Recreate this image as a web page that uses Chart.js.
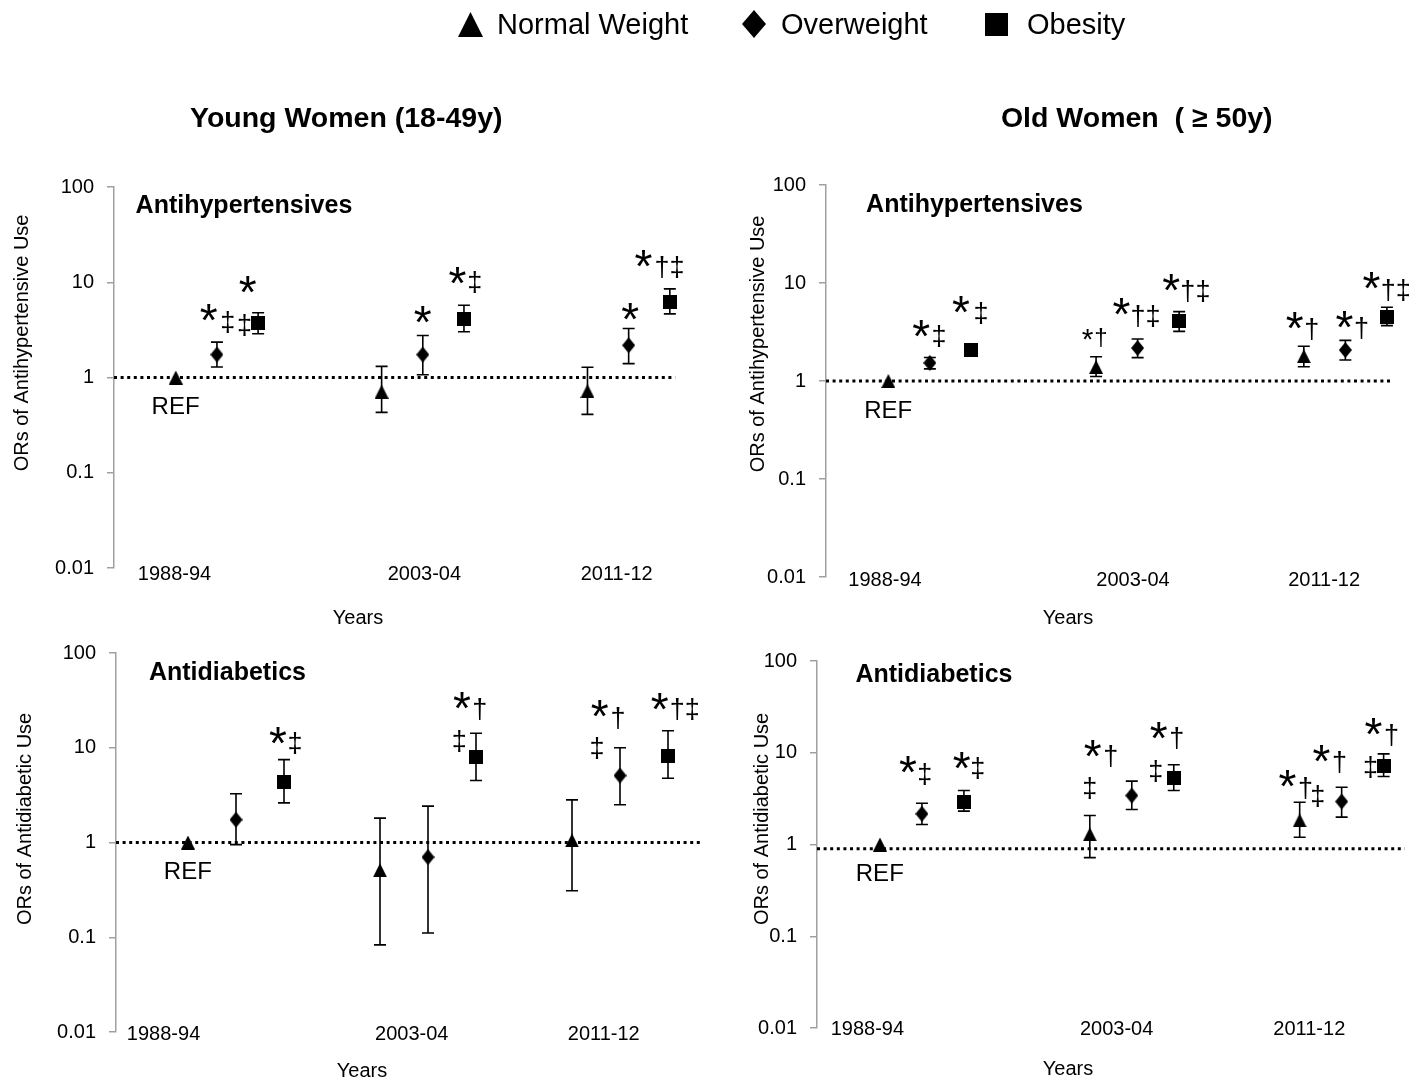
<!DOCTYPE html>
<html>
<head>
<meta charset="utf-8">
<script src="https://cdn.jsdelivr.net/npm/chart.js@4.4.0/dist/chart.umd.min.js"></script>
<style>
  html, body { margin: 0; padding: 0; background: #fff; }
  body { width: 1424px; height: 1078px; position: relative; overflow: hidden; }
  canvas { position: absolute; left: 0; top: 0; }
</style>
</head>
<body>
<canvas id="c1" width="1424" height="1078"></canvas>
<canvas id="c2" width="1424" height="1078"></canvas>
<canvas id="c3" width="1424" height="1078"></canvas>
<canvas id="c4" width="1424" height="1078"></canvas>
<script>
// ================= DATA =================
const seriesNames = ['Normal Weight', 'Overweight', 'Obesity'];
const periodLabels = ['1988-94', '2003-04', '2011-12'];
const yTickValues = [0.01, 0.1, 1, 10, 100];
const yTickLabels = ['0.01', '0.1', '1', '10', '100'];
const columnTitles = ['Young Women (18-49y)', 'Old Women  ( \u2265 50y)'];
const drugTitles = ['Antihypertensives', 'Antidiabetics'];
const yAxisTitles = ['ORs of Antihypertensive Use', 'ORs of Antidiabetic Use'];
const xAxisTitle = 'Years';
const refText = 'REF';

// Young women, antihypertensives (OR and 95% CI per period)
const ywHtnNormalOR = [1.00, 0.71, 0.72];
const ywHtnNormalCI = [null, [0.43, 1.31], [0.41, 1.28]];
const ywHtnOverOR   = [1.74, 1.74, 2.18];
const ywHtnOverCI   = [[1.29, 2.35], [1.07, 2.76], [1.40, 3.27]];
const ywHtnObeseOR  = [3.69, 4.13, 6.17];
const ywHtnObeseCI  = [[2.88, 4.78], [3.02, 5.74], [4.66, 8.53]];

// Old women, antihypertensives
const owHtnNormalOR = [1.00, 1.39, 1.79];
const owHtnNormalCI = [null, [1.11, 1.77], [1.40, 2.26]];
const owHtnOverOR   = [1.53, 2.17, 2.07];
const owHtnOverCI   = [[1.33, 1.74], [1.73, 2.68], [1.64, 2.60]];
const owHtnObeseOR  = [2.09, 4.06, 4.47];
const owHtnObeseCI  = [[1.98, 2.20], [3.21, 5.10], [3.67, 5.65]];

// Young women, antidiabetics
const ywDmNormalOR = [1.00, 0.51, 1.05];
const ywDmNormalCI = [null, [0.083, 1.81], [0.31, 2.82]];
const ywDmOverOR   = [1.74, 0.70, 5.09];
const ywDmOverCI   = [[0.95, 3.27], [0.111, 2.42], [2.50, 10.0]];
const ywDmObeseOR  = [4.33, 7.94, 8.28];
const ywDmObeseCI  = [[2.62, 7.50], [4.51, 14.2], [4.77, 15.1]];

// Old women, antidiabetics
const owDmNormalOR = [1.00, 1.29, 1.83];
const owDmNormalCI = [null, [0.72, 2.07], [1.20, 2.89]];
const owDmOverOR   = [2.16, 3.42, 2.94];
const owDmOverCI   = [[1.65, 2.82], [2.41, 4.90], [1.99, 4.21]];
const owDmObeseOR  = [2.89, 5.33, 7.14];
const owDmObeseCI  = [[2.31, 3.88], [3.88, 7.39], [5.51, 9.73]];

// Significance marks: [period, series, text]
const ywHtnMarks = [[0,1,'*'],[0,1,'\u2021'],[0,2,'*'],[0,2,'\u2021'],[1,1,'*'],[1,2,'*'],[1,2,'\u2021'],[2,1,'*'],[2,2,'*'],[2,2,'\u2020\u2021']];
const owHtnMarks = [[0,1,'*'],[0,1,'\u2021'],[0,2,'*'],[0,2,'\u2021'],[1,0,'*'],[1,0,'\u2020'],[1,1,'*'],[1,1,'\u2020\u2021'],[1,2,'*'],[1,2,'\u2020\u2021'],[2,0,'*'],[2,0,'\u2020'],[2,1,'*'],[2,1,'\u2020'],[2,2,'*'],[2,2,'\u2020\u2021']];
const ywDmMarks  = [[0,2,'*'],[0,2,'\u2021'],[1,2,'*'],[1,2,'\u2020'],[1,2,'\u2021'],[2,1,'*'],[2,1,'\u2020'],[2,1,'\u2021'],[2,2,'*'],[2,2,'\u2020\u2021']];
const owDmMarks  = [[0,1,'*'],[0,1,'\u2021'],[0,2,'*'],[0,2,'\u2021'],[1,0,'*'],[1,0,'\u2020'],[1,0,'\u2021'],[1,2,'*'],[1,2,'\u2020'],[1,2,'\u2021'],[2,0,'*'],[2,0,'\u2020'],[2,1,'\u2021'],[2,1,'*'],[2,1,'\u2020'],[2,2,'*'],[2,2,'\u2020'],[2,2,'\u2021']];

// ================= LAYOUT =================
const F = '"Liberation Sans", Arial, Helvetica, sans-serif';
const W = 1424, H = 1078, YW = 100;

// mark placement (x in slot units, y in OR units), same order as the marks arrays; size kind
const ywHtnMarkPos = [[0.80,4.81,'s'],[1.26,3.78,'d'],[1.75,9.47,'s'],[1.67,3.52,'d'],[6.0,4.59,'s'],[6.84,11.8,'s'],[7.26,9.94,'d'],[11.04,4.93,'s'],[11.36,17.8,'s'],[11.99,14.3,'d']];
const owHtnMarkPos = [[0.79,3.47,'s'],[1.22,2.88,'d'],[1.75,6.1,'s'],[2.23,4.94,'d'],[4.80,2.95,'ss'],[5.11,2.81,'sd'],[5.61,5.69,'s'],[6.19,4.61,'d'],[6.81,10.2,'s'],[7.39,8.28,'d'],[9.78,4.10,'s'],[10.19,3.40,'d'],[10.98,4.29,'s'],[11.39,3.47,'d'],[11.63,10.5,'s'],[12.21,8.48,'d']];
const ywDmMarkPos  = [[1.875,13.5,'s'],[2.23,11.1,'d'],[5.71,31.5,'s'],[6.08,25.9,'d'],[5.65,11.9,'d'],[8.58,25.9,'s'],[8.96,20.8,'d'],[8.52,9.82,'d'],[9.83,30.8,'s'],[10.35,25.9,'d']];
const owDmMarkPos  = [[0.67,7.45,'s'],[1.07,5.94,'d'],[1.95,8.23,'s'],[2.33,6.74,'d'],[5.07,11.1,'s'],[5.5,9.33,'d'],[5.0,4.08,'d'],[6.64,17.5,'s'],[7.07,14.3,'d'],[6.57,6.25,'d'],[9.71,5.24,'s'],[10.14,4.18,'d'],[10.43,3.42,'d'],[10.52,9.82,'s'],[10.95,7.83,'d'],[11.76,19.3,'s'],[12.19,15.8,'d'],[11.69,7.08,'d']];
// font sizes (px) for each kind of mark
const markFontSizes = { s: 46, d: 27, ss: 30, sd: 24 };

const slotsA = [[0,5,10],[1,6,11],[2,7,12]];
const slotsB = [[0,4,8],[1,5,9],[2,6,10]];

const panels = [
  { id:'c1', area:{left:114, right:711, top:187, bottom:568}, xmin:-1.5, xmax:13, slots:slotsA,
    or:[ywHtnNormalOR, ywHtnOverOR, ywHtnObeseOR], ci:[ywHtnNormalCI, ywHtnOverCI, ywHtnObeseCI],
    marks:ywHtnMarks, markPos:ywHtnMarkPos, refValue:1, refEnd:12.13,
    title:drugTitles[0], titlePos:[243.5,206], yTitle:yAxisTitles[0], yTitlePos:[22,343],
    xLabelSlots:[-0.02,6.05,10.72], xLabelY:573, xTitlePos:[358,617] },
  { id:'c2', area:{left:826, right:1418, top:185, bottom:577}, xmin:-1.5, xmax:12.7, slots:slotsA,
    or:[owHtnNormalOR, owHtnOverOR, owHtnObeseOR], ci:[owHtnNormalCI, owHtnOverCI, owHtnObeseCI],
    marks:owHtnMarks, markPos:owHtnMarkPos, refValue:1, refEnd:12.09,
    title:drugTitles[0], titlePos:[974,205], yTitle:yAxisTitles[0], yTitlePos:[758,344],
    xLabelSlots:[-0.07,5.9,10.5], xLabelY:579, xTitlePos:[1068,617] },
  { id:'c3', area:{left:116, right:716, top:653, bottom:1032}, xmin:-1.5, xmax:11, slots:slotsB,
    or:[ywDmNormalOR, ywDmOverOR, ywDmObeseOR], ci:[ywDmNormalCI, ywDmOverCI, ywDmObeseCI],
    marks:ywDmMarks, markPos:ywDmMarkPos, refValue:1, refEnd:10.7,
    title:drugTitles[1], titlePos:[227,670], yTitle:yAxisTitles[1], yTitlePos:[23.5,819],
    xLabelSlots:[-0.5,4.67,8.67], xLabelY:1033, xTitlePos:[362,1070] },
  { id:'c4', area:{left:817, right:1413, top:661, bottom:1028}, xmin:-1.5, xmax:12.7, slots:slotsA,
    or:[owDmNormalOR, owDmOverOR, owDmObeseOR], ci:[owDmNormalCI, owDmOverCI, owDmObeseCI],
    marks:owDmMarks, markPos:owDmMarkPos, refValue:0.9, refEnd:12.5,
    title:drugTitles[1], titlePos:[933.5,672], yTitle:yAxisTitles[1], yTitlePos:[760,819],
    xLabelSlots:[-0.29,5.65,10.24], xLabelY:1028, xTitlePos:[1068,1068] }
];

// ================= HELPERS =================
function makeMarker(shape, w, h) {
  const c = document.createElement('canvas');
  c.width = w; c.height = h;
  const g = c.getContext('2d');
  g.fillStyle = '#000';
  g.beginPath();
  if (shape === 'tri') { g.moveTo(w/2, 0); g.lineTo(w, h); g.lineTo(0, h); }
  else if (shape === 'dia') { g.moveTo(w/2, 0); g.lineTo(w, h/2); g.lineTo(w/2, h); g.lineTo(0, h/2); }
  else { g.rect(0, 0, w, h); }
  g.closePath(); g.fill();
  return c;
}
const markerImgs = [makeMarker('tri', 14, 14), makeMarker('dia', 13, 16), makeMarker('sq', 14, 14)];

function drawText(ctx, text, cx, cy, size, weight, rot) {
  ctx.save();
  ctx.font = (weight || 'normal') + ' ' + size + 'px ' + F;
  ctx.textAlign = 'left';
  ctx.textBaseline = 'alphabetic';
  const m = ctx.measureText(text);
  const dx = -(m.actualBoundingBoxRight - m.actualBoundingBoxLeft) / 2;
  const dy = (m.actualBoundingBoxAscent - m.actualBoundingBoxDescent) / 2;
  ctx.translate(cx, cy);
  if (rot) ctx.rotate(rot);
  ctx.fillStyle = '#000';
  ctx.fillText(text, dx, dy);
  ctx.restore();
}
function drawTextLeft(ctx, text, x, cy, size, weight) {
  ctx.save();
  ctx.font = (weight || 'normal') + ' ' + size + 'px ' + F;
  ctx.textAlign = 'left';
  ctx.textBaseline = 'alphabetic';
  const m = ctx.measureText(text);
  const dy = (m.actualBoundingBoxAscent - m.actualBoundingBoxDescent) / 2;
  ctx.fillStyle = '#000';
  ctx.fillText(text, x + m.actualBoundingBoxLeft, cy + dy);
  ctx.restore();
}

function drawPageText(ctx) {
  // legend
  const shapes = [['tri', 458, 12, 25, 25], ['dia', 742, 10, 24, 28], ['sq', 985, 13, 23, 23]];
  const textX = [499, 782, 1028];
  shapes.forEach((s, i) => {
    const img = makeMarker(s[0], s[3], s[4]);
    ctx.drawImage(img, s[1], s[2]);
    drawTextLeft(ctx, seriesNames[i], textX[i], 26, 29);
  });
  drawText(ctx, columnTitles[0], 346, 120, 28.5, 'bold');
  drawText(ctx, columnTitles[1], 1137, 120, 28.5, 'bold');
}

function decoPlugin(p, drawPage) {
  return {
    id: 'deco_' + p.id,
    beforeDatasetsDraw(chart) {
      const ctx = chart.ctx, xs = chart.scales.x, ys = chart.scales.y;
      ctx.save();
      ctx.strokeStyle = '#000';
      ctx.lineWidth = 1.6;
      for (let s = 0; s < 3; s++) {
        for (let i = 0; i < 3; i++) {
          const ci = p.ci[s][i];
          if (!ci) continue;
          const x = xs.getPixelForValue(p.slots[s][i]);
          const y1 = ys.getPixelForValue(ci[0]);
          const y2 = ys.getPixelForValue(ci[1]);
          ctx.beginPath();
          ctx.moveTo(x, y1); ctx.lineTo(x, y2);
          ctx.moveTo(x - 6, y1); ctx.lineTo(x + 6, y1);
          ctx.moveTo(x - 6, y2); ctx.lineTo(x + 6, y2);
          ctx.stroke();
        }
      }
      ctx.restore();
    },
    afterDraw(chart) {
      const ctx = chart.ctx, xs = chart.scales.x, ys = chart.scales.y;
      // significance marks
      p.marks.forEach((mk, k) => {
        const pos = p.markPos[k];
        drawText(ctx, mk[2], xs.getPixelForValue(pos[0]), ys.getPixelForValue(pos[1]), markFontSizes[pos[2]]);
      });
      // REF label under the reference point
      drawText(ctx, refText, xs.getPixelForValue(p.slots[0][0]), ys.getPixelForValue(p.or[0][0]) + 28, 24);
      // period labels
      periodLabels.forEach((lab, i) => drawText(ctx, lab, xs.getPixelForValue(p.xLabelSlots[i]), p.xLabelY, 20));
      drawText(ctx, xAxisTitle, p.xTitlePos[0], p.xTitlePos[1], 20);
      drawText(ctx, p.title, p.titlePos[0], p.titlePos[1], 25, 'bold');
      drawText(ctx, p.yTitle, p.yTitlePos[0], p.yTitlePos[1], 20, 'normal', -Math.PI / 2);
      if (drawPage) drawPageText(ctx);
    }
  };
}

function makeChart(p, drawPage) {
  const datasets = [];
  for (let s = 0; s < 3; s++) {
    datasets.push({
      label: seriesNames[s],
      data: p.or[s].map((v, i) => ({ x: p.slots[s][i], y: v })),
      pointStyle: markerImgs[s], pointRadius: 7, pointHoverRadius: 7,
      backgroundColor: '#000', borderColor: '#000', showLine: false
    });
  }
  datasets.push({
    label: 'Reference', type: 'line',
    data: [{ x: p.xmin, y: p.refValue }, { x: p.refEnd, y: p.refValue }],
    borderColor: '#000', borderWidth: 3, borderDash: [3, 3.6], borderCapStyle: 'butt',
    pointRadius: 0, showLine: true, fill: false, tension: 0
  });
  new Chart(document.getElementById(p.id), {
    type: 'scatter',
    data: { datasets },
    options: {
      responsive: false, animation: false, events: [],
      layout: { padding: { left: p.area.left - YW, right: W - p.area.right, top: p.area.top, bottom: H - p.area.bottom } },
      plugins: { legend: { display: false }, tooltip: { enabled: false } },
      scales: {
        x: { type: 'linear', display: false, min: p.xmin, max: p.xmax },
        y: {
          type: 'logarithmic', min: 0.01, max: 100,
          afterBuildTicks: (sc) => { sc.ticks = yTickValues.map(v => ({ value: v })); },
          afterFit: (sc) => { sc.width = YW; },
          ticks: {
            autoSkip: false, color: '#000', padding: 13,
            font: { family: F, size: 20 },
            callback: (v, i) => yTickLabels[i]
          },
          grid: { drawOnChartArea: false, drawTicks: true, tickLength: 7, color: '#a0a0a0', lineWidth: 1.5 },
          border: { display: true, color: '#a0a0a0', width: 1.5 }
        }
      }
    },
    plugins: [decoPlugin(p, drawPage)]
  });
}

panels.forEach((p, i) => makeChart(p, i === 0));
</script>
</body>
</html>
